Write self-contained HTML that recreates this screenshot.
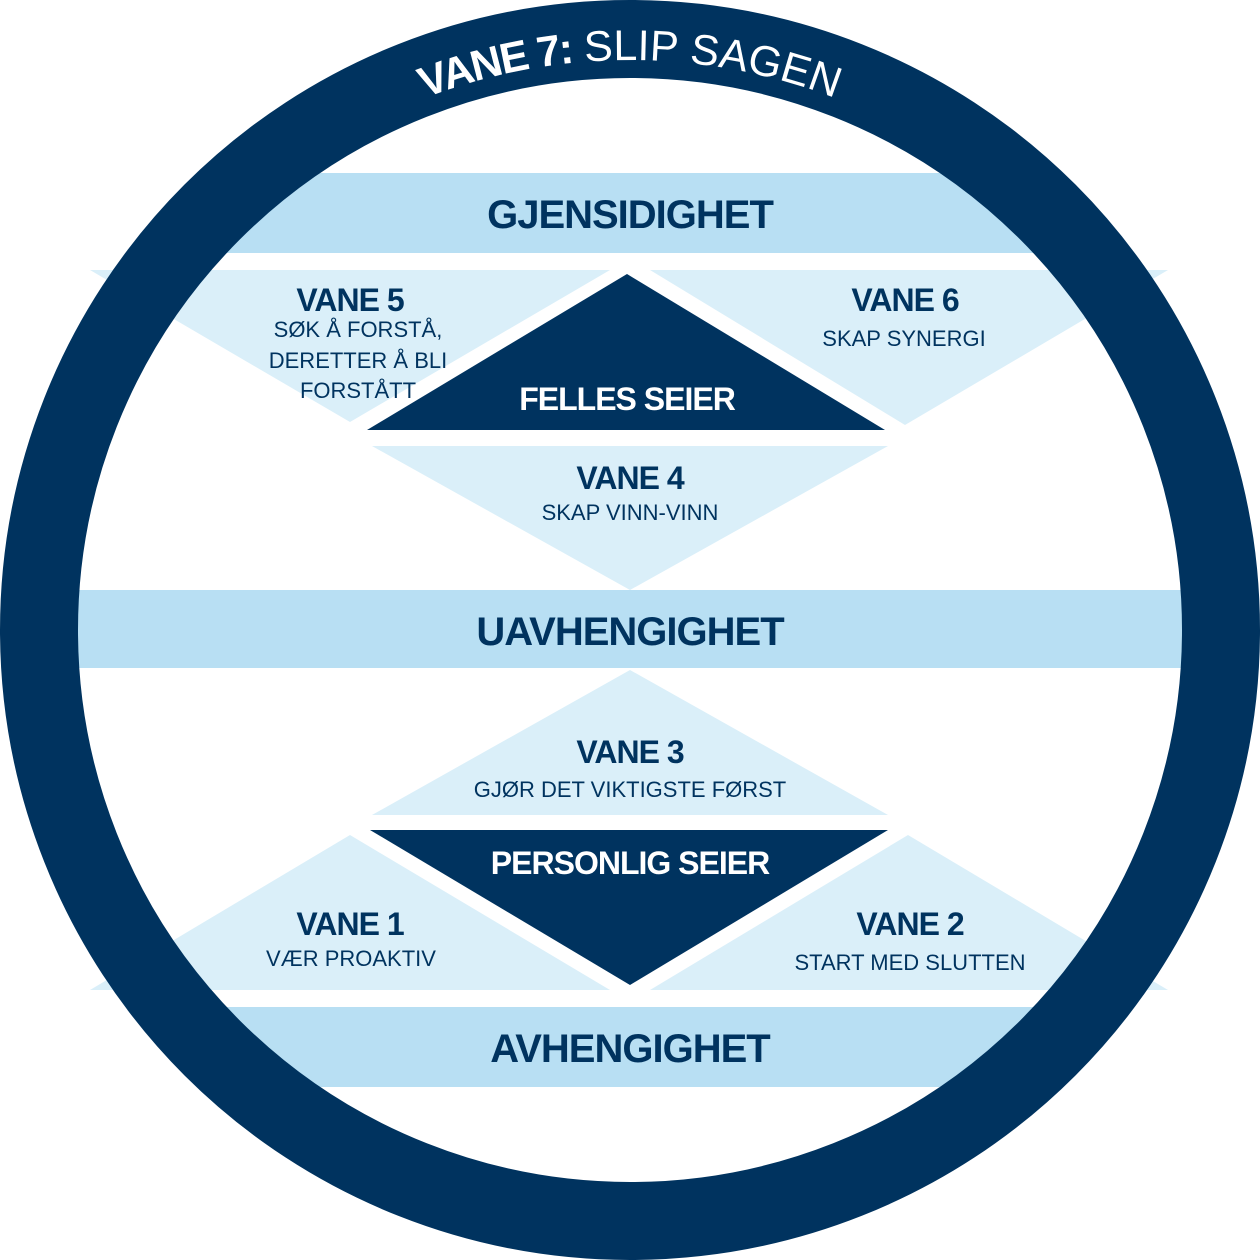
<!DOCTYPE html>
<html><head><meta charset="utf-8"><style>
html,body{margin:0;padding:0;background:#fff;}
svg{display:block;}
text{font-family:"Liberation Sans",sans-serif;}
</style></head><body>
<svg width="1260" height="1260" viewBox="0 0 1260 1260" xmlns="http://www.w3.org/2000/svg">
<defs>
<clipPath id="c"><circle cx="630" cy="630" r="553"/></clipPath>
<path id="arc" d="M 60 630 A 570 570 0 0 1 1200 630" fill="none"/>
</defs>
<g fill="#daeff9">
<polygon points="90,270 610,270 350,422"/>
<polygon points="650,270 1168,270 905,425"/>
<polygon points="372,446 888,446 630,590"/>
<polygon points="630,670 888,815 372,815"/>
<polygon points="350,835 610,990 90,990"/>
<polygon points="908,835 1168,990 650,990"/>
</g>
<g clip-path="url(#c)" fill="#b8dff3">
<rect x="0" y="173" width="1260" height="80"/>
<rect x="0" y="590" width="1260" height="78"/>
<rect x="0" y="1007" width="1260" height="80"/>
</g>
<polygon points="627,274 885,430 367,430" fill="#00335f"/>
<polygon points="370,830 888,830 630,985" fill="#00335f"/>
<circle cx="630" cy="630" r="591" fill="none" stroke="#00335f" stroke-width="78"/>
<text font-size="43" fill="#fff"><textPath href="#arc" startOffset="50%" text-anchor="middle"><tspan font-weight="bold" letter-spacing="-2">VANE 7:</tspan> SLIP SAGEN</textPath></text>
<g fill="#00335f" text-anchor="middle" font-weight="bold" letter-spacing="-1">
<text x="630" y="228" font-size="40">GJENSIDIGHET</text>
<text x="630" y="645" font-size="40">UAVHENGIGHET</text>
<text x="630" y="1062" font-size="40">AVHENGIGHET</text>
<text x="350" y="311" font-size="32">VANE 5</text>
<text x="905" y="311" font-size="32">VANE 6</text>
<text x="630" y="489" font-size="32">VANE 4</text>
<text x="630" y="763" font-size="32">VANE 3</text>
<text x="350" y="935" font-size="32">VANE 1</text>
<text x="910" y="935" font-size="32">VANE 2</text>
</g>
<g fill="#fff" text-anchor="middle" font-weight="bold" letter-spacing="-1" font-size="32">
<text x="627" y="410">FELLES SEIER</text>
<text x="630" y="874">PERSONLIG SEIER</text>
</g>
<g fill="#00335f" text-anchor="middle" font-size="22">
<text x="358" y="337">SØK Å FORSTÅ,</text>
<text x="358" y="368">DERETTER Å BLI</text>
<text x="358" y="398">FORSTÅTT</text>
<text x="904" y="346">SKAP SYNERGI</text>
<text x="630" y="520">SKAP VINN-VINN</text>
<text x="630" y="797">GJØR DET VIKTIGSTE FØRST</text>
<text x="351" y="966">VÆR PROAKTIV</text>
<text x="910" y="970">START MED SLUTTEN</text>
</g>
</svg>
</body></html>
